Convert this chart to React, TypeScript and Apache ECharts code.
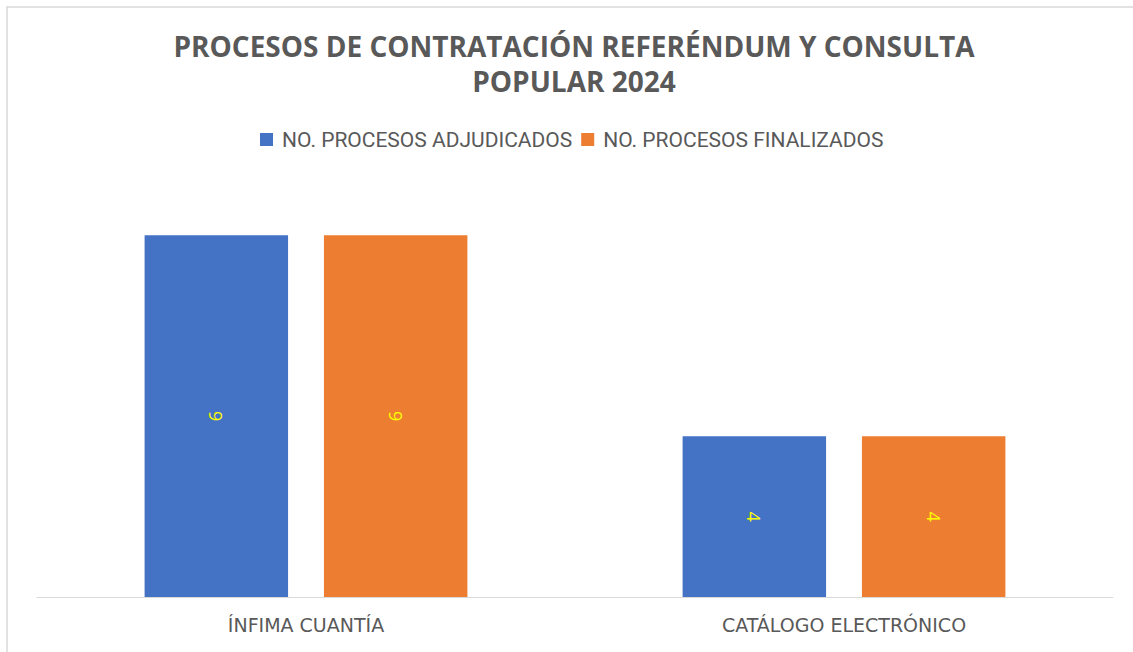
import React, { useEffect, useRef } from "react";
import * as echarts from "echarts";

const titleText = "PROCESOS DE CONTRATACIÓN REFERÉNDUM Y CONSULTA\nPOPULAR 2024";
const categories = ["ÍNFIMA CUANTÍA", "CATÁLOGO ELECTRÓNICO"];
const seriesNames = ["NO. PROCESOS ADJUDICADOS", "NO. PROCESOS FINALIZADOS"];
const adjudicados = [9, 4];
const finalizados = [9, 4];
const colors = ["#4472C4", "#ED7D31"];

export default function App() {
  const ref = useRef<HTMLDivElement>(null);
  useEffect(() => {
    document.body.style.margin = "0";
    if (!ref.current) return;
    const chart = echarts.init(ref.current, null, { renderer: "svg" });
    const labelCfg = {
      show: true,
      position: "inside",
      rotate: -90,
      color: "#FFFF00",
      fontSize: 18,
      fontFamily: "Open Sans",
    };
    chart.setOption({
      animation: false,
      backgroundColor: "#ffffff",
      legend: {
        left: 260,
        top: 129,
        padding: 0,
        itemWidth: 13,
        itemHeight: 13,
        itemGap: 9,
        icon: "rect",
        textStyle: { color: "#595959", fontFamily: "Roboto", fontSize: 21, padding: [0, 0, 0, 4] },
        data: seriesNames,
      },
      graphic: [
        {
          type: "rect",
          shape: { x: 7, y: 7, width: 1140, height: 660 },
          style: { fill: "none", stroke: "#d9d9d9", lineWidth: 1.5 },
          silent: true,
        },
        {
          type: "text",
          x: 574,
          y: 28,
          silent: true,
          style: {
            text: titleText,
            textAlign: "center",
            textVerticalAlign: "top",
            fill: "#595959",
            fontFamily: "Open Sans",
            fontWeight: "bold",
            fontSize: 28,
            lineHeight: 35,
          },
        },
      ],
      grid: { left: 37, right: 20, top: 195, bottom: 55, containLabel: false },
      xAxis: {
        type: "category",
        data: categories,
        axisLine: { lineStyle: { color: "#d9d9d9", width: 1 } },
        axisTick: { show: false },
        axisLabel: {
          color: "#595959",
          fontFamily: "DejaVu Sans",
          fontSize: 19,
          margin: 18,
        },
      },
      yAxis: {
        type: "value",
        min: 0,
        max: 10,
        show: false,
        splitLine: { show: false },
      },
      series: [
        {
          name: seriesNames[0],
          type: "bar",
          data: adjudicados,
          itemStyle: { color: colors[0] },
          barGap: "25%",
          barCategoryGap: "40%",
          label: labelCfg,
        },
        {
          name: seriesNames[1],
          type: "bar",
          data: finalizados,
          itemStyle: { color: colors[1] },
          barGap: "25%",
          barCategoryGap: "40%",
          label: labelCfg,
        },
      ],
    });
    return () => chart.dispose();
  }, []);
  return <div ref={ref} style={{ width: 1133, height: 652 }} />;
}
